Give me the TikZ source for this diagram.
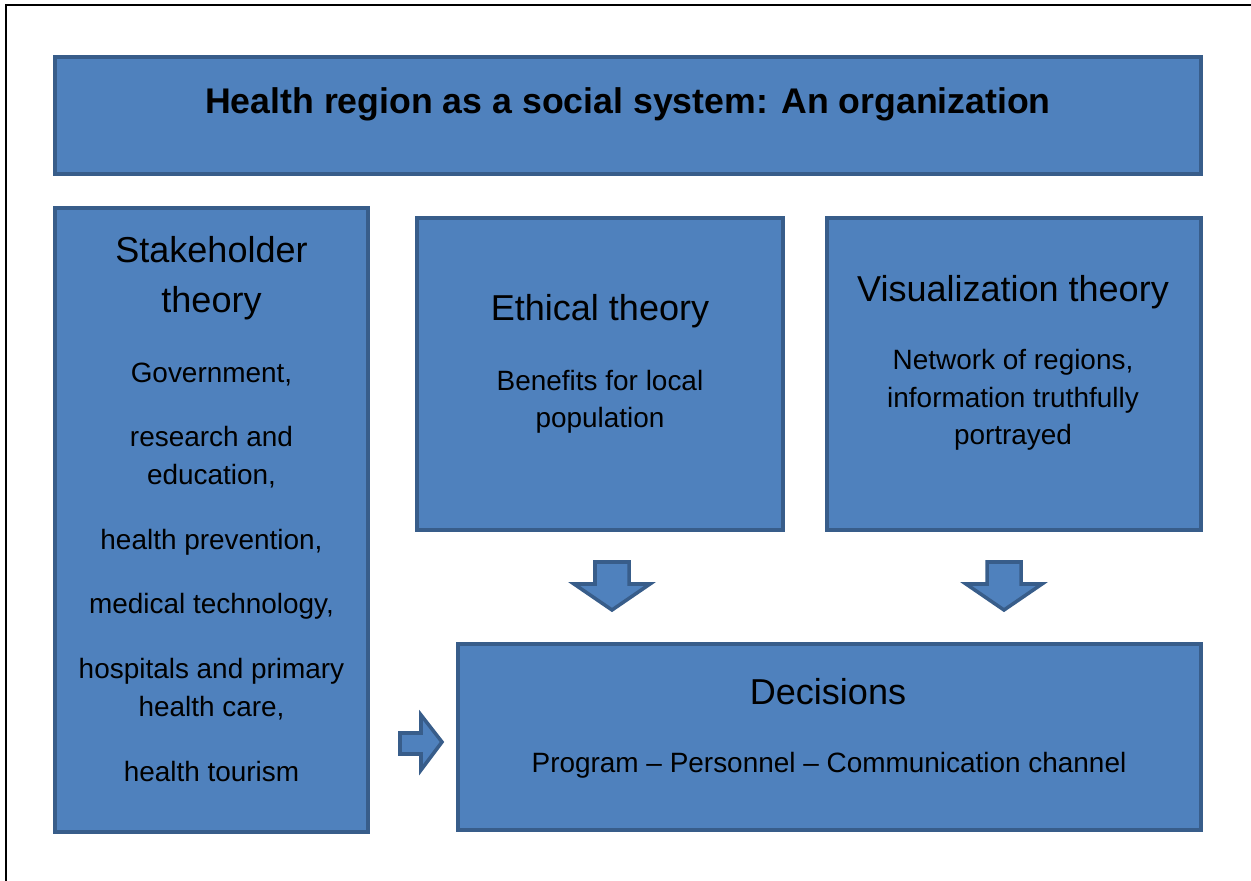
\documentclass[tikz,border=0pt]{standalone}
\usepackage{fontspec}
\setmainfont{Liberation Sans}
\definecolor{boxfill}{HTML}{4F81BD}
\definecolor{boxline}{HTML}{385D8A}
\tikzset{
  panel/.style={draw=boxline, fill=boxfill, line width=2pt, inner sep=0pt},
  headtext/.style={font=\fontsize{20.5}{29}\selectfont, align=center, anchor=base, inner sep=0pt},
  bodytext/.style={font=\fontsize{15.9}{21.5}\selectfont, align=center, anchor=base, inner sep=0pt},
  blockarrow/.style={draw=boxline, fill=boxfill, line width=2pt, line join=miter}
}
\begin{document}
\begin{tikzpicture}[x=0.02cm, y=-0.02cm]
  \useasboundingbox (0,0) rectangle (1251,881);
  \draw[line width=1.1pt] (6,881) -- (6,5) -- (1251,5);

  % boxes
  \node[panel, minimum width=22.92cm, minimum height=2.34cm] (title) at (628,115.5) {};
  \node[panel, minimum width=6.26cm, minimum height=12.48cm] (stake) at (211.5,520) {};
  \node[panel, minimum width=7.32cm, minimum height=6.24cm] (ethic) at (600,374) {};
  \node[panel, minimum width=7.48cm, minimum height=6.24cm] (visual) at (1014,374) {};
  \node[panel, minimum width=14.86cm, minimum height=3.72cm] (decide) at (829.5,737) {};

  % texts (base = last line)
  \node[font=\fontsize{20.3}{24}\selectfont\bfseries, anchor=base, inner sep=0pt] (titletext) at (628,114)
    {Health region as a social system: An organization};
  \node[headtext] (stakehead) at (211.5,313) {Stakeholder\\ theory};
  \node[bodytext] (stakebody) at (211.5,781) {Government,\\[15.3pt] research and\\ education,\\[15.3pt]
    health prevention,\\[15.3pt] medical technology,\\[15.3pt] hospitals and primary\\ health care,\\[15.3pt]
    health tourism};
  \node[headtext] (ethichead) at (600,321) {Ethical theory};
  \node[bodytext] (ethicbody) at (600,428) {Benefits for local\\ population};
  \node[headtext] (visualhead) at (1013,302) {Visualization theory};
  \node[bodytext] (visualbody) at (1013,445) {Network of regions,\\ information truthfully\\ portrayed};
  \node[headtext] (decidehead) at (828,704) {Decisions};
  \node[bodytext] (decidebody) at (829,772) {Program -- Personnel -- Communication channel};

  % block arrows
  \draw[blockarrow] (595,562) -- (629,562) -- (629,584) -- (650,584) -- (612,610) -- (574,584) -- (595,584) -- cycle;
  \draw[blockarrow] (987,562) -- (1021,562) -- (1021,584) -- (1042,584) -- (1004,610) -- (966,584) -- (987,584) -- cycle;
  \draw[blockarrow] (400,733) -- (421,733) -- (421,715) -- (442,742) -- (421,770) -- (421,754) -- (400,754) -- cycle;
\end{tikzpicture}
\end{document}
